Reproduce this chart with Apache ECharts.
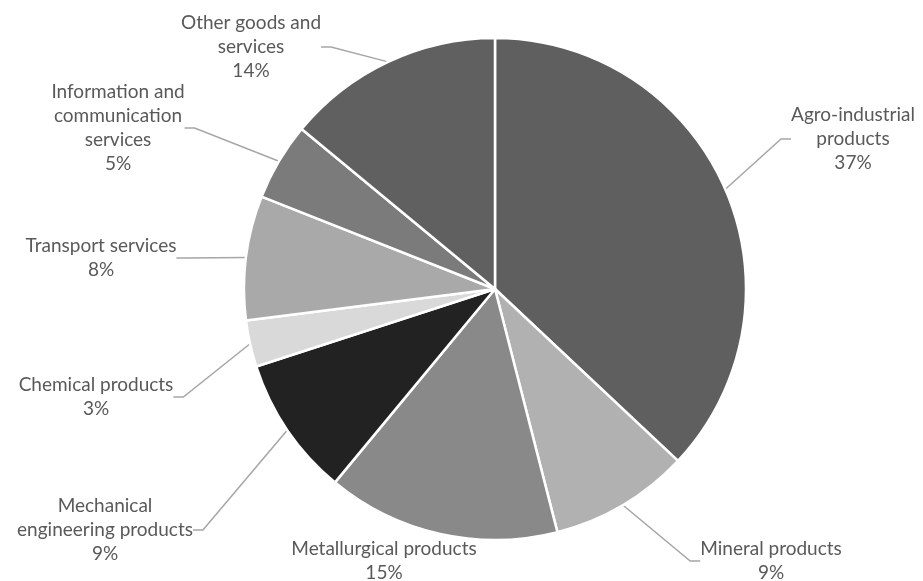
<!DOCTYPE html>
<html>
<head>
<meta charset="utf-8">
<script src="https://cdn.jsdelivr.net/npm/echarts@6/dist/echarts.min.js"></script>
<style>
html,body{margin:0;padding:0;background:#fff;}
#chart{width:923px;height:581px;}
</style>
</head>
<body>
<div id="chart"></div>
<script>
const categories = [
  "Agro-industrial\nproducts",
  "Mineral products",
  "Metallurgical products",
  "Mechanical\nengineering products",
  "Chemical products",
  "Transport services",
  "Information and\ncommunication\nservices",
  "Other goods and\nservices"
];
const shares = [37, 9, 15, 9, 3, 8, 5, 14];
const sliceColors = ['#5f5f5f', '#b1b1b1', '#898989', '#222222', '#d9d9d9', '#a9a9a9', '#7b7b7b', '#606060'];
// label centres (layout only)
const labelPos = [[853, 139], [771, 561], [384, 561], [105, 530], [96, 397], [101, 258], [118, 128], [251, 47]];

const chart = echarts.init(document.getElementById('chart'), null, {renderer: 'canvas'});
chart.setOption({
  backgroundColor: '#ffffff',
  animation: false,
  series: [{
    type: 'pie',
    center: [495, 289],
    radius: 251,
    startAngle: 90,
    clockwise: true,
    data: categories.map((n, i) => ({
      name: n,
      value: shares[i],
      itemStyle: {color: sliceColors[i]},
      labelLine: {show: i !== 2}
    })),
    itemStyle: {borderColor: '#ffffff', borderWidth: 2.5},
    label: {
      show: true,
      formatter: '{b}\n{c}%',
      color: '#595959',
      fontFamily: 'Lato',
      fontSize: 19,
      lineHeight: 24,
      align: 'center'
    },
    labelLine: {show: true, length: 20, length2: 10, lineStyle: {color: '#a6a6a6', width: 1.5}},
    labelLayout: function (p) {
      const pos = labelPos[p.dataIndex];
      return {x: pos[0], y: pos[1], align: 'center', verticalAlign: 'middle'};
    },
    emphasis: {disabled: true}
  }]
});
</script>
</body>
</html>
